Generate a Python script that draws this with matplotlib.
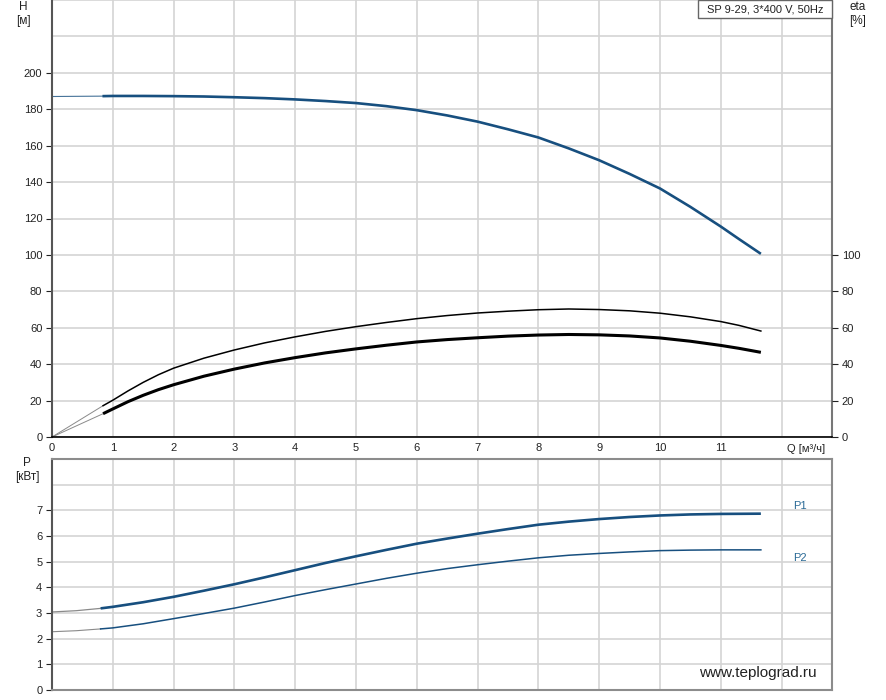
import numpy as np
import matplotlib
matplotlib.use("Agg")
import matplotlib.pyplot as plt
from matplotlib.patches import Rectangle

plt.rcParams['font.family'] = ['Liberation Sans', 'DejaVu Sans']

# --- data ---
q_h = [0.83, 1, 1.5, 2, 2.5, 3, 3.5, 4, 4.5, 5, 5.5, 6, 6.5, 7, 7.5, 8, 8.5, 9,
       9.5, 10, 10.5, 11, 11.3, 11.66]
h = [187.2, 187.3, 187.3, 187.2, 187.0, 186.6, 186.1, 185.4, 184.5, 183.4, 181.7,
     179.5, 176.6, 173.2, 169.0, 164.5, 158.5, 152.0, 144.5, 136.5, 126.4, 115.6,
     108.7, 100.6]
q_h_start = [0, 0.83]
h_start = [187.0, 187.2]

q_eta = [0.84, 1, 1.25, 1.5, 1.75, 2, 2.5, 3, 3.5, 4, 4.5, 5, 5.5, 6, 6.5, 7, 7.5,
         8, 8.5, 9, 9.5, 10, 10.5, 11, 11.3, 11.66]
eta_pump = [17.2, 20.2, 25.3, 30.0, 34.2, 37.8, 43.3, 47.8, 51.7, 55.0, 58.0, 60.6,
            62.9, 65.0, 66.7, 68.1, 69.1, 69.9, 70.3, 70.0, 69.3, 68.0, 66.0, 63.4,
            61.3, 58.2]
eta_total = [12.8, 15.4, 19.4, 22.9, 26.0, 28.7, 33.4, 37.3, 40.7, 43.6, 46.2, 48.4,
             50.4, 52.2, 53.5, 54.5, 55.4, 56.0, 56.3, 56.1, 55.5, 54.4, 52.6, 50.3,
             48.7, 46.5]

q_p = [0.8, 1, 1.5, 2, 2.5, 3, 3.5, 4, 4.5, 5, 5.5, 6, 6.5, 7, 7.5, 8, 8.5, 9, 9.5,
       10, 10.5, 11, 11.66]
p1 = [3.18, 3.24, 3.42, 3.63, 3.87, 4.12, 4.39, 4.67, 4.95, 5.21, 5.46, 5.70, 5.90,
      6.09, 6.27, 6.44, 6.56, 6.66, 6.74, 6.80, 6.84, 6.86, 6.87]
p2 = [2.38, 2.42, 2.58, 2.78, 2.98, 3.19, 3.43, 3.68, 3.91, 4.13, 4.35, 4.55, 4.73,
      4.88, 5.02, 5.15, 5.25, 5.32, 5.38, 5.43, 5.45, 5.46, 5.46]
q_p_start = [0, 0.4, 0.8]
p1_start = [3.04, 3.09, 3.18]
p2_start = [2.27, 2.31, 2.38]

blue = '#174f7f'
grid_c = '#d4d4d4'
thin_c = '#8a8a8a'
xmax = 12.83

fig = plt.figure(figsize=(8.87, 7.0), dpi=100)
ax = fig.add_axes([52/887, 1-437/700, 780/887, 437/700])
axp = fig.add_axes([52/887, 10/700, 780/887, 231/700])

# --- top chart: H and eta ---
ax.set_xlim(0, xmax)
ax.set_ylim(0, 240)
ax.set_yticks(range(0, 201, 20))
ax.set_yticks([220, 240], minor=True)
ax.set_xticks(range(0, 13))
ax.set_xticklabels([str(i) for i in range(12)] + [''])
ax.grid(True, which='both', color=grid_c, lw=1.2)
ax.set_axisbelow(True)
ax.tick_params(axis='y', which='major', length=4, labelsize=8, colors='#222222', pad=3)
ax.tick_params(axis='y', which='minor', length=0)
ax.tick_params(axis='x', length=0, labelsize=8, colors='#222222', pad=4)
ax.spines['top'].set_visible(False)
ax.spines['bottom'].set_color('black')
ax.spines['bottom'].set_linewidth(1.2)
ax.spines['left'].set_color('#555555')
ax.spines['left'].set_linewidth(1.5)
ax.spines['right'].set_color('#777777')
ax.spines['right'].set_linewidth(1.5)

ax.plot(q_h_start, h_start, color=blue, lw=0.8, alpha=0.8)
ax.plot(q_h, h, color=blue, lw=1.9, solid_capstyle='butt')
ax.plot([0, q_eta[0]], [0, eta_pump[0]], color=thin_c, lw=0.7)
ax.plot([0, q_eta[0]], [0, eta_total[0]], color=thin_c, lw=0.7)
ax.plot(q_eta, eta_pump, color='black', lw=1.1)
ax.plot(q_eta, eta_total, color='black', lw=2.2, solid_capstyle='butt')

ax2 = ax.twinx()
ax2.set_ylim(0, 240)
ax2.set_yticks(range(0, 101, 20))
ax2.tick_params(axis='y', length=4, labelsize=8, colors='#222222', pad=3)
for s in ax2.spines.values():
    s.set_visible(False)

ax.text(12.4, -4, 'Q [м³/ч]', ha='center', va='top', fontsize=8, color='#222222')

ax.add_patch(Rectangle(((698-52)/780, 1-18/437), (832-698)/780, 18/437,
                       transform=ax.transAxes, facecolor='white', edgecolor='#666666',
                       lw=1.0, clip_on=False, zorder=5))
ax.text((765-52)/780, 1-9/437, 'SP 9-29, 3*400 V, 50Hz', transform=ax.transAxes,
        ha='center', va='center', fontsize=8, color='#222222', zorder=6)

fig.text(23/887, 1-7/700, 'H', ha='center', va='center', fontsize=8.5, color='#222222')
fig.text(23/887, 1-21/700, '[м]', ha='center', va='center', fontsize=8.5, color='#222222')
fig.text(858/887, 1-7/700, 'eta', ha='center', va='center', fontsize=8.5, color='#222222')
fig.text(858/887, 1-21/700, '[%]', ha='center', va='center', fontsize=8.5, color='#222222')

# --- bottom chart: power ---
axp.set_xlim(0, xmax)
axp.set_ylim(0, 9)
axp.set_yticks(range(0, 8))
axp.set_yticks([8], minor=True)
axp.set_xticks(range(0, 13))
axp.set_xticklabels([])
axp.grid(True, which='both', color=grid_c, lw=1.2)
axp.set_axisbelow(True)
axp.tick_params(axis='y', which='major', length=4, labelsize=8, colors='#222222', pad=3)
axp.tick_params(axis='y', which='minor', length=0)
axp.tick_params(axis='x', length=0)
for s in axp.spines.values():
    s.set_color('#8c8c8c')
    s.set_linewidth(1.5)
axp.spines['left'].set_color('#555555')

axp.plot(q_p_start, p1_start, color=thin_c, lw=0.9)
axp.plot(q_p_start, p2_start, color=thin_c, lw=0.8)
axp.plot(q_p, p1, color=blue, lw=1.9, solid_capstyle='butt')
axp.plot(q_p, p2, color=blue, lw=1.1)

axp.text(12.3, 7.18, 'P1', ha='center', va='center', fontsize=8, color='#2a6a96')
axp.text(12.3, 5.14, 'P2', ha='center', va='center', fontsize=8, color='#2a6a96')
axp.text(12.58, 0.66, 'www.teplograd.ru', ha='right', va='center', fontsize=11,
         color='#222222')

fig.text(27/887, 1-463/700, 'P', ha='center', va='center', fontsize=8.5, color='#222222')
fig.text(27/887, 1-477/700, '[кВт]', ha='center', va='center', fontsize=8.5, color='#222222')

fig.savefig('out.png', dpi=100)
